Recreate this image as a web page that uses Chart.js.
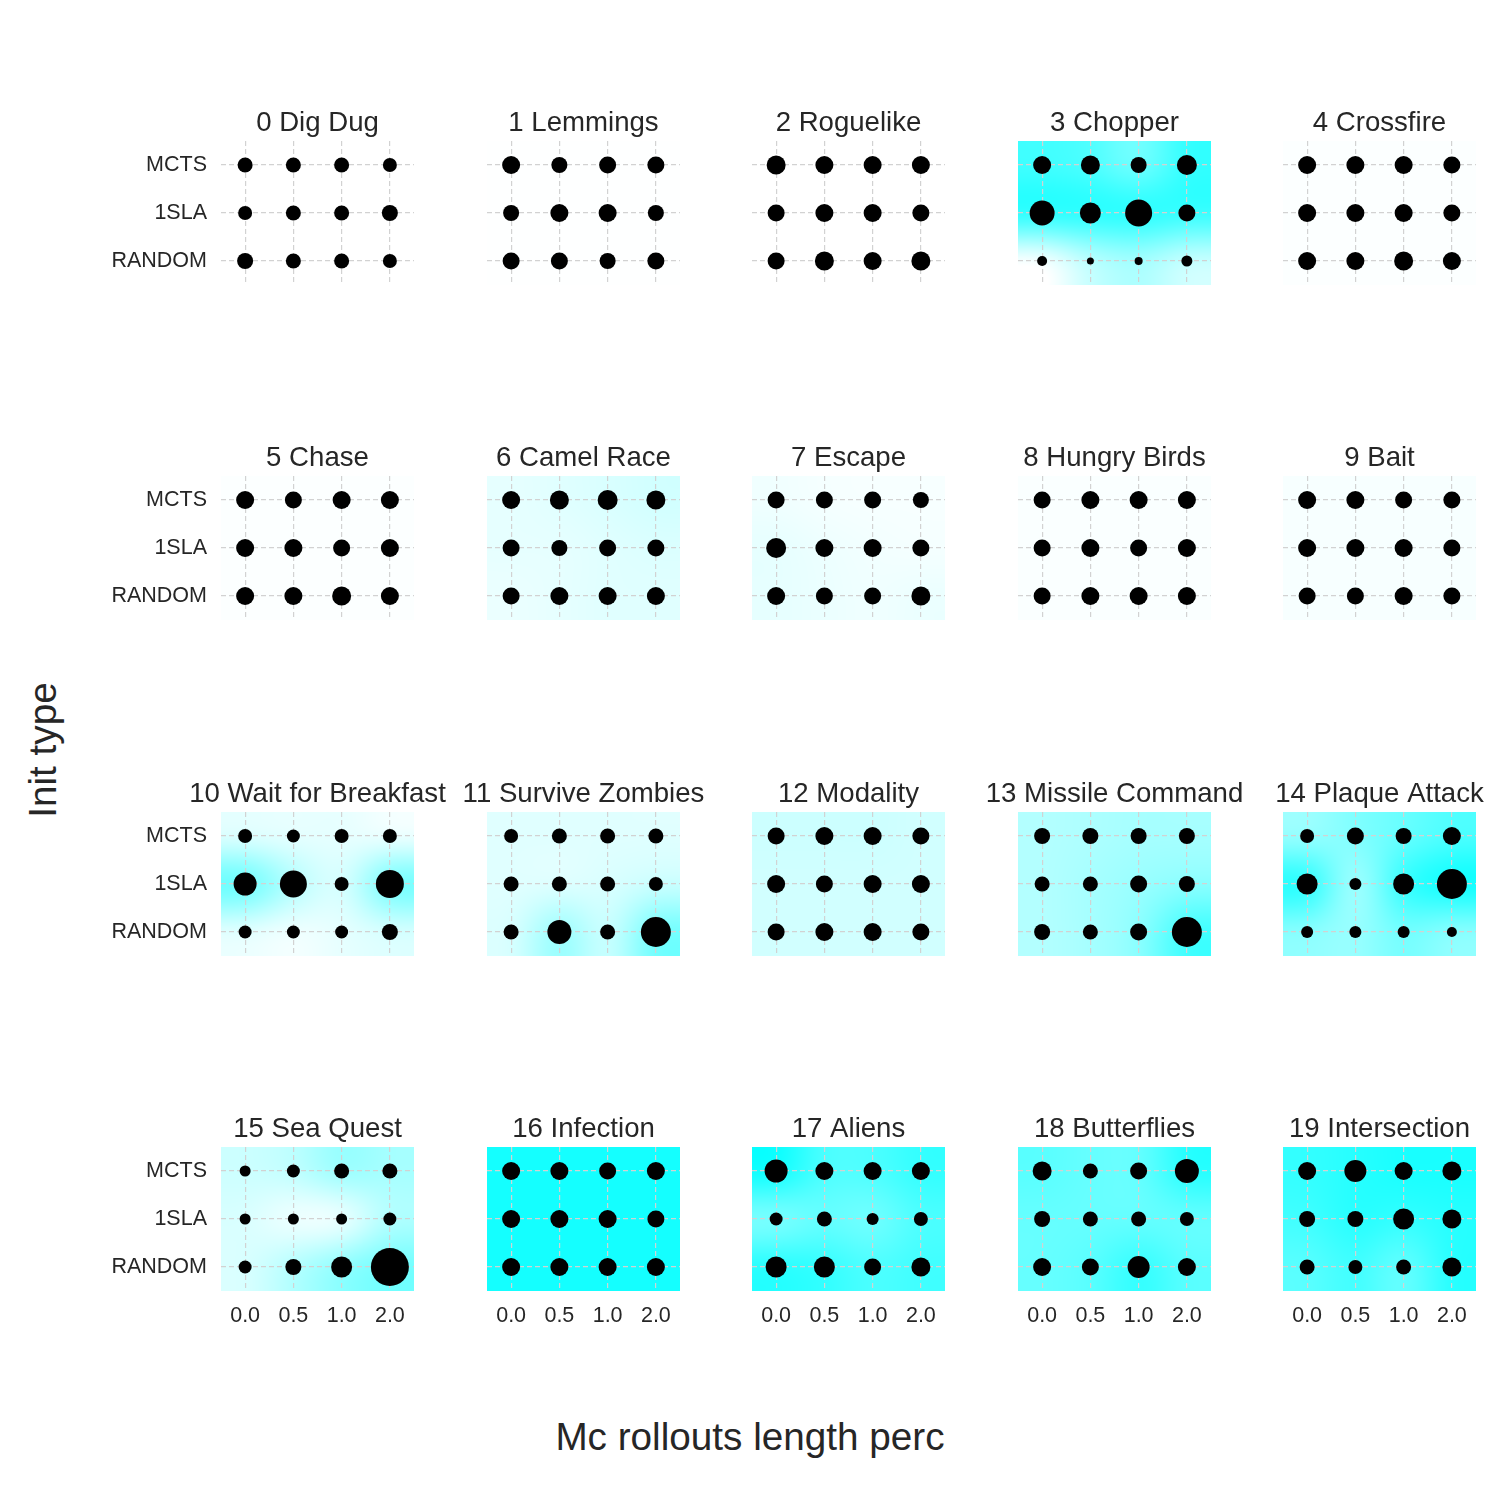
<!DOCTYPE html>
<html><head><meta charset="utf-8">
<script src="https://cdn.jsdelivr.net/npm/chart.js@4/dist/chart.umd.min.js"></script>
<style>
html,body{margin:0;padding:0;background:#fff;}
body{width:1500px;height:1500px;position:relative;overflow:hidden;font-family:"Liberation Sans",Arial,sans-serif;color:#262626;}
canvas{position:absolute;}
.axt{position:absolute;font-size:38.7px;line-height:38px;text-align:center;white-space:nowrap;color:#262626;}
</style></head><body>
<div class="axt" style="left:0;top:1418px;width:1500px;">Mc rollouts length perc</div>
<div class="axt" style="left:-157px;top:731px;width:400px;transform:rotate(-90deg);">Init type</div>
<script>
const games = ['0 Dig Dug','1 Lemmings','2 Roguelike','3 Chopper','4 Crossfire',
  '5 Chase','6 Camel Race','7 Escape','8 Hungry Birds','9 Bait',
  '10 Wait for Breakfast','11 Survive Zombies','12 Modality','13 Missile Command','14 Plaque Attack',
  '15 Sea Quest','16 Infection','17 Aliens','18 Butterflies','19 Intersection'];
const xLabels = ['0.0','0.5','1.0','2.0'];
const yLabels = ['MCTS','1SLA','RANDOM'];

// bubble radius per game, one entry per x label
const bubbleMCTS = [
  [7.5,7.5,7.5,7],[9,8,8.5,8.5],[9.5,9,9,9],[9,9.5,8,10],[9,9,9,8.5],
  [9,8.5,9,9],[9,9.5,10,9.5],[8.5,8.5,8.5,8],[8.5,9,9,9],[9,9,8.5,8.5],
  [7,6.5,7,7],[7,7.5,7.5,7.5],[8.5,9,9,8.5],[8,8,8,8],[7,8.5,8,9],
  [5.5,6.5,7.5,7.5],[9,9,8.5,9],[11.5,9,9,9],[9.5,7.5,8.5,12],[9,11,9,9.5]];
const bubble1SLA = [
  [7,7.5,7.5,8],[8,9,9,8],[8.5,9,9,8.5],[12.5,10.5,13.5,8.5],[9,9,9,8.5],
  [9,9,8.5,9],[8.5,8,8.5,8.5],[10,9,9,8.5],[8.5,9,8.5,9],[9,9,9,8.5],
  [11.5,13.5,7,14],[7.5,7.5,7.5,7],[9,8.5,9,9],[7.5,7.5,8.5,8],[10.5,6,10.5,15],
  [5.5,5.5,5.5,6.5],[9,9,9,8.5],[6.5,7.5,6,7],[8,7.5,7.5,7],[8,8,10.5,9.5]];
const bubbleRANDOM = [
  [8,7.5,7.5,7],[8.5,8.5,8,8.5],[8.5,9.5,9,9.5],[5,3.5,4,5.5],[9,9,9.5,9],
  [9,9,9.5,9],[8.5,9,9,9],[9,8.5,8.5,9.5],[8.5,9,9,9],[8.5,8.5,9,8.5],
  [6.5,6.5,6.5,8],[7.5,12,7.5,15],[8.5,9,9,8.5],[8,7.5,8.5,15],[6,6,6,5],
  [6.5,8,10.5,19],[9,9,9,9],[10.5,10.5,8.5,9.5],[9,8.5,11,9],[7.5,7,7.5,9.5]];

// background intensity (0 = white, 1 = cyan)
const heatMCTS = [
  [0,0,0,0],[0.005,0.005,0.005,0.005],[0,0,0,0],[0.75,0.7,0.55,0.8],[0.01,0.01,0.01,0.01],
  [0.01,0.01,0.01,0.01],[0.1,0.12,0.15,0.18],[0.06,0.04,0.03,0.03],[0.02,0.02,0.02,0.02],[0.03,0.03,0.03,0.03],
  [0.12,0.1,0.1,0.06],[0.12,0.12,0.12,0.12],[0.2,0.2,0.2,0.18],[0.3,0.32,0.35,0.35],[0.4,0.5,0.6,0.7],
  [0.2,0.25,0.4,0.35],[0.92,0.92,0.92,0.92],[0.95,0.7,0.7,0.8],[0.65,0.6,0.6,0.85],[0.8,0.85,0.9,0.9]];
const heat1SLA = [
  [0,0,0,0],[0.005,0.005,0.005,0.005],[0,0,0,0],[0.85,0.85,0.85,0.8],[0.01,0.01,0.01,0.01],
  [0.01,0.01,0.01,0.01],[0.1,0.1,0.12,0.14],[0.1,0.07,0.05,0.04],[0.02,0.02,0.02,0.02],[0.03,0.03,0.03,0.03],
  [0.6,0.3,0.15,0.55],[0.12,0.12,0.15,0.2],[0.18,0.18,0.18,0.18],[0.3,0.35,0.4,0.45],[0.85,0.35,0.8,0.95],
  [0.15,0.05,0.05,0.3],[0.92,0.92,0.92,0.92],[0.5,0.6,0.55,0.7],[0.6,0.6,0.6,0.6],[0.75,0.85,0.8,0.85]];
const heatRANDOM = [
  [0,0,0,0],[0.005,0.005,0.005,0.005],[0,0,0,0],[0,0.25,0.35,0.2],[0.01,0.01,0.01,0.01],
  [0.01,0.01,0.01,0.01],[0.08,0.1,0.12,0.12],[0.1,0.08,0.06,0.08],[0.02,0.02,0.02,0.02],[0.03,0.03,0.03,0.03],
  [0.1,0.05,0.1,0.15],[0.15,0.4,0.2,0.55],[0.18,0.18,0.18,0.18],[0.3,0.35,0.45,0.75],[0.45,0.4,0.55,0.45],
  [0.15,0.3,0.45,0.55],[0.92,0.92,0.92,0.92],[0.85,0.8,0.7,0.75],[0.6,0.65,0.8,0.65],[0.65,0.75,0.6,0.85]];

const FONT = "'Liberation Sans', Arial, sans-serif";
const TXT = '#262626';
const colLeft = [221,487,752,1018,1283];
const rowTop = [141,476,812,1147];
const PW = 193, PH = 144, PL = 150, PR = 80, PT = 50, PB = 50;

const heatPlugin = {
  id: 'heat',
  beforeDraw(chart, args, opts) {
    const xs = chart.scales.x, ys = chart.scales.y, ctx = chart.ctx;
    const rows = opts.rows, nx = xLabels.length, ny = yLabels.length;
    const off = document.createElement('canvas');
    off.width = nx + 2; off.height = ny + 2;
    const octx = off.getContext('2d');
    const img = octx.createImageData(nx + 2, ny + 2);
    for (let j = 0; j < ny + 2; j++) {
      for (let i = 0; i < nx + 2; i++) {
        const jj = Math.min(Math.max(j - 1, 0), ny - 1);
        const ii = Math.min(Math.max(i - 1, 0), nx - 1);
        const v = rows[jj][ii];
        const p = (j * (nx + 2) + i) * 4;
        img.data[p] = Math.round(255 * (1 - v));
        img.data[p + 1] = 255; img.data[p + 2] = 255; img.data[p + 3] = 255;
      }
    }
    octx.putImageData(img, 0, 0);
    const dx = xs.getPixelForValue(1) - xs.getPixelForValue(0);
    const dy = ys.getPixelForValue(1) - ys.getPixelForValue(0);
    const left = xs.getPixelForValue(0) - dx / 2;
    const top = ys.getPixelForValue(0) - dy / 2;
    ctx.save();
    ctx.beginPath(); ctx.rect(left, top, dx * nx, dy * ny); ctx.clip();
    ctx.imageSmoothingEnabled = true; ctx.imageSmoothingQuality = 'high';
    ctx.drawImage(off, 0, 0, nx + 2, ny + 2, left - dx, top - dy, dx * (nx + 2), dy * (ny + 2));
    ctx.restore();
  }
};
const titlePlugin = {
  id: 'ptitle',
  afterDraw(chart, args, opts) {
    const ca = chart.chartArea, ctx = chart.ctx;
    ctx.save();
    ctx.font = '27.6px ' + FONT;
    ctx.fillStyle = TXT; ctx.textAlign = 'center'; ctx.textBaseline = 'alphabetic';
    ctx.fillText(opts.text, (ca.left + ca.right) / 2, ca.top - 10);
    ctx.restore();
  }
};

const gridOpts = {display: true, color: '#d2d2d2', lineWidth: 1.2, drawTicks: false, offset: false};
const borderOpts = {display: false, dash: [5, 3]};

for (let k = 0; k < games.length; k++) {
  const col = k % 5, row = Math.floor(k / 5);
  const cv = document.createElement('canvas');
  cv.width = PL + PW + PR; cv.height = PT + PH + PB;
  cv.style.left = (colLeft[col] - PL) + 'px';
  cv.style.top = (rowTop[row] - PT) + 'px';
  document.body.appendChild(cv);
  const sizes = [bubbleMCTS[k], bubble1SLA[k], bubbleRANDOM[k]];
  const pts = [];
  for (let j = 0; j < yLabels.length; j++)
    for (let i = 0; i < xLabels.length; i++)
      pts.push({x: xLabels[i], y: yLabels[j], r: sizes[j][i]});
  new Chart(cv, {
    type: 'bubble',
    data: {datasets: [{data: pts, backgroundColor: '#000000', borderWidth: 0, hoverRadius: 0, clip: false}]},
    options: {
      responsive: false, animation: false, events: [],
      layout: {autoPadding: false, padding: {top: PT, right: PR, left: 0, bottom: 0}},
      plugins: {
        legend: {display: false}, tooltip: {enabled: false},
        ptitle: {text: games[k]},
        heat: {rows: [heatMCTS[k], heat1SLA[k], heatRANDOM[k]]}
      },
      scales: {
        x: {type: 'category', labels: xLabels, offset: true, position: 'bottom',
            grid: gridOpts, border: borderOpts,
            ticks: {display: row === 3, color: TXT, font: {family: FONT, size: 21.5}, padding: 12, maxRotation: 0, autoSkip: false},
            afterFit(s) { s.height = PB; }},
        y: {type: 'category', labels: yLabels, offset: true, position: 'left',
            grid: gridOpts, border: borderOpts,
            ticks: {display: col === 0, color: TXT, font: {family: FONT, size: 21.5}, padding: 14, autoSkip: false},
            afterFit(s) { s.width = PL; }}
      }
    },
    plugins: [heatPlugin, titlePlugin]
  });
}
</script>
</body></html>
